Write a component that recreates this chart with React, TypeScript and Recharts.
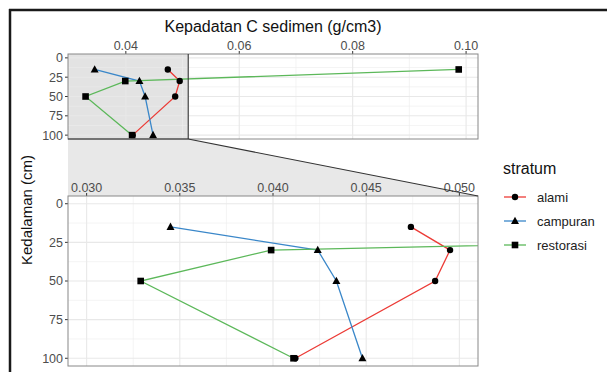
import React from "react";
import { LineChart, Line, XAxis, YAxis, ReferenceLine } from "recharts";

// depth (cm) per sample, x = carbon density (g/cm3)
const depth = [15, 30, 50, 100];
const alami = [0.0474, 0.0495, 0.0487, 0.0412];
const campuran = [0.0345, 0.0424, 0.0434, 0.0448];
const restorasi = [0.0987, 0.0399, 0.0329, 0.0411];

const strata = ["alami", "campuran", "restorasi"];
const colors = ["#EC3B36", "#3A87C9", "#5CB85A"];
const shapes = ["circle", "triangle", "square"];

const yTicks = [0, 25, 50, 75, 100];
const yMinor = [12.5, 37.5, 62.5, 87.5];
const topTicks = [0.04, 0.06, 0.08, 0.1];
const topMinor = [0.03, 0.05, 0.07, 0.09];
const zoomTicks = [0.03, 0.035, 0.04, 0.045, 0.05];
const zoomMinor = [0.0325, 0.0375, 0.0425, 0.0475];

const TOP_DOMAIN: [number, number] = [0.0298, 0.1021];
const ZOOM_DOMAIN: [number, number] = [0.029, 0.051];
const Y_DOMAIN: [number, number] = [-5, 105];

// panel boxes (px)
const PL = 68, PR = 478;
const TT = 54, TB = 139;
const BT = 196, BB = 366;

const FONT = "'Liberation Sans', Arial, sans-serif";

const series = [alami, campuran, restorasi].map((vals, i) => ({
  name: strata[i],
  color: colors[i],
  shape: shapes[i],
  data: vals.map((x, j) => ({ x, y: depth[j] })),
}));

function Marker({ cx, cy, shape }: { cx: number; cy: number; shape: string }) {
  if (cx == null || cy == null) return null;
  if (shape === "circle") return <circle cx={cx} cy={cy} r={3.2} fill="#000" />;
  if (shape === "triangle")
    return <polygon points={`${cx},${cy - 4.3} ${cx - 4},${cy + 3} ${cx + 4},${cy + 3}`} fill="#000" />;
  return <rect x={cx - 3.3} y={cy - 3.3} width={6.6} height={6.6} fill="#000" />;
}

function Panel({ domain, ticks, minor, top, bottom, fmt }: {
  domain: [number, number]; ticks: number[]; minor: number[]; top: number; bottom: number; fmt: (v: number) => string;
}) {
  const tickStyle = { fill: "#4D4D4D", fontSize: 12.5, fontFamily: FONT };
  return (
    <div style={{ position: "absolute", left: 0, top: 0 }}>
      <LineChart
        width={607}
        height={372}
        margin={{ top: top - 18, bottom: 372 - bottom, left: PL - 40, right: 607 - PR }}
      >
        <XAxis
          type="number"
          dataKey="x"
          orientation="top"
          height={18}
          domain={domain}
          ticks={ticks}
          allowDataOverflow
          tickFormatter={fmt}
          axisLine={false}
          tickSize={3}
          tickMargin={1}
          tickLine={{ stroke: "#333" }}
          tick={tickStyle}
          interval={0}
        />
        <YAxis
          type="number"
          dataKey="y"
          width={40}
          domain={Y_DOMAIN}
          reversed
          ticks={yTicks}
          allowDataOverflow
          axisLine={false}
          tickSize={3}
          tickMargin={2}
          tickLine={{ stroke: "#333" }}
          tick={tickStyle}
          interval={0}
        />
        {minor.map((v) => (
          <ReferenceLine key={"vm" + v} x={v} stroke="#EDEDED" strokeWidth={0.6} />
        ))}
        {yMinor.map((v) => (
          <ReferenceLine key={"hm" + v} y={v} stroke="#EDEDED" strokeWidth={0.6} />
        ))}
        {ticks.map((v) => (
          <ReferenceLine key={"vM" + v} x={v} stroke="#E8E8E8" strokeWidth={1.1} />
        ))}
        {yTicks.map((v) => (
          <ReferenceLine key={"hM" + v} y={v} stroke="#E8E8E8" strokeWidth={1.1} />
        ))}
        {series.map((s) => (
          <Line
            key={s.name}
            data={s.data}
            dataKey="y"
            type="linear"
            stroke={s.color}
            strokeWidth={1.3}
            isAnimationActive={false}
            dot={(p: any) => <Marker key={p.index} cx={p.cx} cy={p.cy} shape={s.shape} />}
            activeDot={false}
          />
        ))}
      </LineChart>
    </div>
  );
}

const scaleTop = (v: number) => PL + ((v - TOP_DOMAIN[0]) / (TOP_DOMAIN[1] - TOP_DOMAIN[0])) * (PR - PL);

export default function App() {
  const zx = scaleTop(ZOOM_DOMAIN[1]);
  return (
    <div style={{ position: "absolute", left: 0, top: 0, width: 607, height: 372, background: "#fff", overflow: "hidden" }}>
      {/* zoom highlight + connector (behind the charts) */}
      <svg width={607} height={372} style={{ position: "absolute", left: 0, top: 0 }}>
        <rect x={PL} y={TT} width={zx - PL} height={TB - TT} fill="#E3E3E3" />
        <polygon points={`${PL},${TB} ${zx},${TB} ${PR},${BT} ${PL},${BT}`} fill="#E8E8E8" />
      </svg>

      <Panel domain={TOP_DOMAIN} ticks={topTicks} minor={topMinor} top={TT} bottom={TB} fmt={(v) => v.toFixed(2)} />
      <Panel domain={ZOOM_DOMAIN} ticks={zoomTicks} minor={zoomMinor} top={BT} bottom={BB} fmt={(v) => v.toFixed(3)} />

      <svg width={607} height={372} style={{ position: "absolute", left: 0, top: 0, pointerEvents: "none" }}>
        <rect x={PL} y={TT} width={PR - PL} height={TB - TT} fill="none" stroke="#888" strokeWidth={1} />
        <rect x={PL} y={BT} width={PR - PL} height={BB - BT} fill="none" stroke="#888" strokeWidth={1} />
        <line x1={zx} y1={TT} x2={zx} y2={TB} stroke="#333" strokeWidth={1.1} />
        <line x1={PL} y1={TB} x2={zx} y2={TB} stroke="#333" strokeWidth={1.1} />
        <line x1={zx} y1={TB} x2={PR} y2={BT} stroke="#333" strokeWidth={1.1} />
        <text x={(PL + PR) / 2} y={32} textAnchor="middle" fontSize={16} fontFamily={FONT} fill="#111">
          Kepadatan C sedimen (g/cm3)
        </text>
        <text
          transform={`translate(32, ${(TT + BB) / 2}) rotate(-90)`}
          textAnchor="middle"
          fontSize={15}
          fontFamily={FONT}
          fill="#111"
        >
          Kedalaman (cm)
        </text>
        {/* border frame of the screenshot */}
        <line x1={9} y1={10} x2={607} y2={10} stroke="#1a1a1a" strokeWidth={2.5} />
        <line x1={10} y1={9} x2={10} y2={372} stroke="#1a1a1a" strokeWidth={2.5} />
      </svg>

      {/* legend */}
      <div style={{ position: "absolute", left: 503, top: 160, fontFamily: FONT }}>
        <div style={{ fontSize: 16, color: "#111", marginBottom: 7 }}>stratum</div>
        {series.map((s) => (
          <div key={s.name} style={{ display: "flex", alignItems: "center", height: 24 }}>
            <svg width={24} height={12}>
              <line x1={1} y1={6} x2={23} y2={6} stroke={s.color} strokeWidth={1.3} />
              <Marker cx={12} cy={6} shape={s.shape} />
            </svg>
            <span style={{ fontSize: 13, color: "#222", marginLeft: 10 }}>{s.name}</span>
          </div>
        ))}
      </div>
    </div>
  );
}
